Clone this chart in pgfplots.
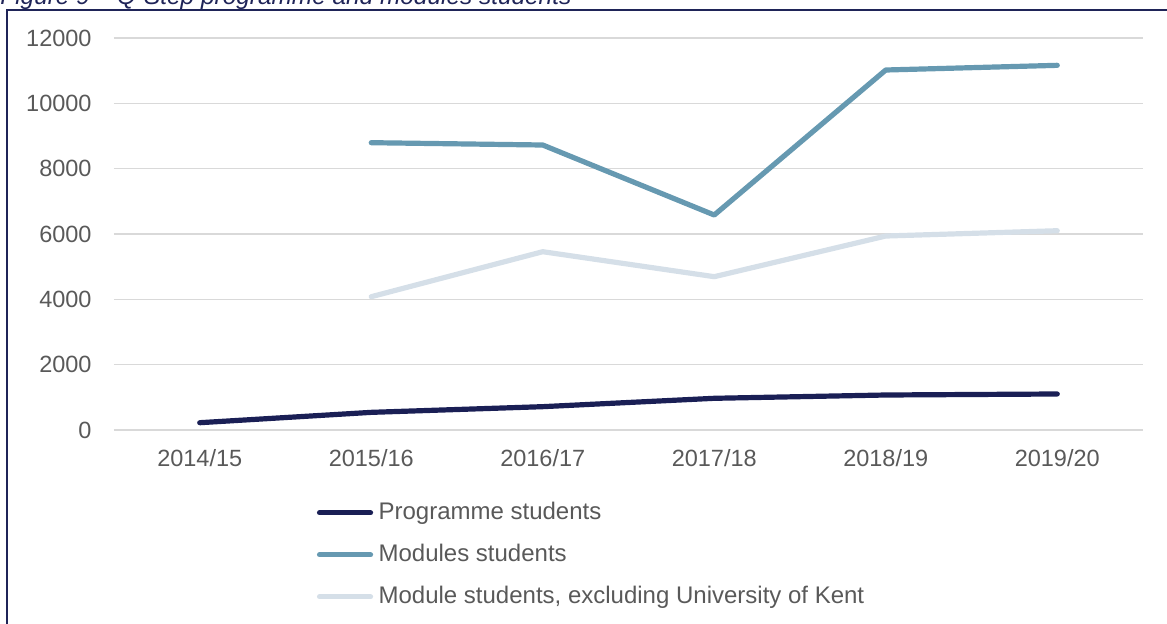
\documentclass[border=0pt]{standalone}
\usepackage{fontspec}
\setmainfont{Liberation Sans}
\usepackage{pgfplots}
\pgfplotsset{compat=1.18}
\definecolor{navy}{HTML}{1A1F55}
\definecolor{modblue}{HTML}{6699B1}
\definecolor{lightblue}{HTML}{D5DFE8}
\definecolor{gridgray}{HTML}{D9D9D9}
\definecolor{ticktext}{HTML}{595959}
\definecolor{framecol}{HTML}{1F2458}
\begin{document}
\begin{tikzpicture}
\path[use as bounding box] (0pt,0pt) rectangle (583.5pt,312pt);
\draw[framecol, line width=0.8pt] (3.5pt,-2pt) -- (3.5pt,307pt) -- (590pt,307pt);
\node[anchor=base west, inner sep=0pt, font=\fontsize{12.2}{14}\selectfont\itshape, text=framecol] at (0pt,309.5pt) {Figure 9 – Q-Step programme and modules students};
\begin{axis}[
  at={(57pt,97pt)}, anchor=south west,
  scale only axis, width=514.5pt, height=196pt,
  xmin=-0.5, xmax=5.5, ymin=0, ymax=12000,
  xtick={0,1,2,3,4,5},
  xticklabels={2014/15,2015/16,2016/17,2017/18,2018/19,2019/20},
  ytick={0,2000,4000,6000,8000,10000,12000},
  /pgf/number format/1000 sep={},
  /pgf/number format/assume math mode=true,
  scaled y ticks=false,
  axis line style={draw=none},
  major tick length=0pt,
  ymajorgrids, grid style={gridgray, line width=0.75pt},
  tick label style={font=\fontsize{11.75}{13}\selectfont, text=ticktext},
  xticklabel style={yshift=-6pt},
  yticklabel style={xshift=-7.7pt},
  legend image code/.code={\draw[#1] (0pt,0pt) -- (25.5pt,0pt);},
  legend cell align=left,
  legend style={at={(0.191,-0.171)}, anchor=north west, draw=none, fill=none,
    font=\fontsize{12}{14}\selectfont, text=ticktext,
    nodes={inner sep=0pt, text height=8.8pt, text depth=2.6pt},
    row sep=9.6pt,
    /tikz/every odd column/.append style={column sep=2.75pt}},
  every axis plot/.append style={line width=2.6pt, line cap=round, line join=round},
]
\addplot[navy] coordinates {(0,223) (1,540) (2,714) (3,970) (4,1071) (5,1102)};
\addlegendentry{Programme students}
\addplot[modblue] coordinates {(1,8795) (2,8724) (3,6581) (4,11020) (5,11163)};
\addlegendentry{Modules students}
\addplot[lightblue] coordinates {(1,4080) (2,5458) (3,4693) (4,5938) (5,6100)};
\addlegendentry{Module students, excluding University of Kent}
\end{axis}
\end{tikzpicture}
\end{document}
